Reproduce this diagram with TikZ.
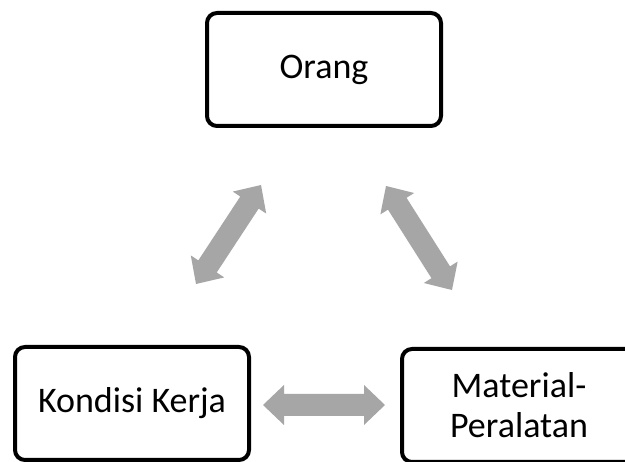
\documentclass[tikz,border=0pt]{standalone}
\usepackage{fontspec}
\setmainfont{Carlito}
\usetikzlibrary{calc}
\definecolor{arrowgray}{RGB}{166,166,166}
\newcommand\hl{21pt}
\newcommand\hw{20pt}
\newcommand\sw{11pt}
\newcommand\blockarrow[2]{%
\fill[arrowgray] (#1) -- ($(#1)!\hl!(#2)!\hw!90:(#2)$) -- ($(#1)!\hl!(#2)!\sw!90:(#2)$)
 -- ($(#2)!\hl!(#1)!\sw!-90:(#1)$) -- ($(#2)!\hl!(#1)!\hw!-90:(#1)$) -- (#2)
 -- ($(#2)!\hl!(#1)!\hw!90:(#1)$) -- ($(#2)!\hl!(#1)!\sw!90:(#1)$)
 -- ($(#1)!\hl!(#2)!\sw!-90:(#2)$) -- ($(#1)!\hl!(#2)!\hw!-90:(#2)$) -- cycle;}
\tikzset{
  box/.style={draw=black, line width=4pt, rounded corners=10pt, fill=white,
    minimum width=234pt, minimum height=113pt, inner sep=0pt, align=center,
    font=\fontsize{36}{40}\selectfont},
}
\begin{document}
\begin{tikzpicture}[x=1pt,y=1pt]
\useasboundingbox (0,0) rectangle (625,-462);
\clip (0,0) rectangle (625,-462);
\fill[white] (0,0) rectangle (625,-462);
\node[box] (orang) at (324,-69.5) {Orang};
\node[box] (kondisi) at (132,-403.5) {Kondisi Kerja};
\node[box] (material) at (519,-405.5) {Material-\\Peralatan};
\coordinate (l1) at (196,-284);
\coordinate (l2) at (261,-185);
\coordinate (r1) at (386,-186);
\coordinate (r2) at (452,-290);
\coordinate (h1) at (263,-405);
\coordinate (h2) at (385,-405);
\blockarrow{l1}{l2}
\blockarrow{r1}{r2}
\blockarrow{h1}{h2}
\end{tikzpicture}
\end{document}
